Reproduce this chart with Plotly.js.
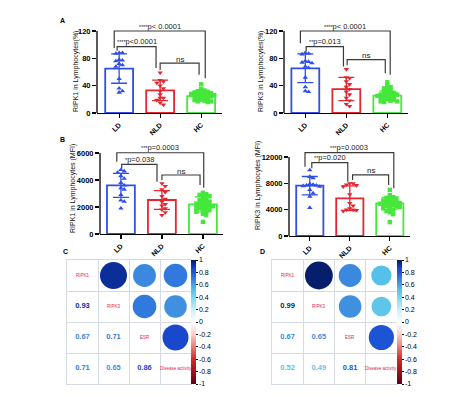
<!DOCTYPE html>
<html><head><meta charset="utf-8">
<script src="https://cdn.plot.ly/plotly-3.0.1.min.js"></script>
<style>html,body{margin:0;padding:0;background:#fff}#chart{width:474px;height:395px}</style>
</head><body><div id="chart"></div>
<script>
// ---------------- DATA ----------------
const groups = ['LD', 'NLD', 'HC'];

// Panel A left: RIPK1 in Lymphocytes (%)
const a1Means = [65, 33, 24.5];
const a1SD = [21.5, 15, 7];
const a1LD = [88, 87, 88, 78, 76, 77, 70, 68, 72, 50, 36, 30, 32];
const a1NLD = [59, 48, 46, 44, 40, 36, 32, 27, 22, 19, 15, 12, 22];
const a1HC = [42, 35, 33, 32, 31, 30, 30, 29, 28, 28, 27, 26, 26, 25, 25, 24, 23, 22, 21, 20, 19, 18, 17, 17, 16];
const a1Stars = ['****', '****', ''];
const a1P = ['p&lt; 0.0001', 'p&lt;0.0001', 'ns'];

// Panel A right: RIPK3 in Lymphocytes (%)
const a2Means = [65.4, 35, 25.5];
const a2SD = [21, 17, 6.5];
const a2LD = [88, 87, 86, 76, 75, 74, 73, 68, 66, 52, 38, 32, 31];
const a2NLD = [64, 52, 51, 46, 42, 38, 35, 31, 27, 22, 18, 13, 10];
const a2HC = [45, 40, 38, 36, 35, 33, 31, 30, 29, 28, 27, 27, 26, 25, 25, 24, 23, 22, 21, 20, 19, 18, 17, 17, 16];
const a2Stars = ['****', '**', ''];
const a2P = ['p&lt; 0.0001', 'p=0.013', 'ns'];

// Panel B left: RIPK1 in Lymphocytes (MFI)
const b1Means = [3600, 2520, 2200];
const b1SD = [890, 690, 560];
const b1LD = [4750, 4650, 4550, 4300, 4100, 3800, 3600, 3400, 3300, 2900, 2500, 2400, 1900];
const b1NLD = [3750, 3550, 3300, 3100, 2800, 2600, 2400, 2200, 2100, 1900, 1800, 1600, 1400];
const b1HC = [3050, 2950, 2900, 2800, 2750, 2600, 2500, 2450, 2400, 2300, 2250, 2200, 2150, 2100, 2050, 2000, 1950, 1900, 1850, 1800, 1700, 1650, 1500, 1400, 900];
const b1Stars = ['***', '*', ''];
const b1P = ['p=0.0003', 'p=0.038', 'ns'];

// Panel B right: RIPK3 in Lymphocytes (MFI)
const b2Means = [7640, 5730, 4970];
const b2SD = [1400, 1870, 900];
const b2LD = [10000, 9000, 8800, 7900, 7800, 7700, 7700, 7600, 7500, 7000, 6500, 6000, 4300];
const b2NLD = [8000, 8000, 7800, 7700, 7500, 6300, 5000, 4600, 4200, 4000, 4000, 3900, 3800];
const b2HC = [7000, 6200, 5900, 5800, 5700, 5500, 5400, 5300, 5200, 5100, 5000, 4900, 4900, 4800, 4700, 4600, 4500, 4400, 4300, 4200, 4000, 3800, 3600, 3300, 2100];
const b2Stars = ['***', '**', ''];
const b2P = ['p=0.0003', 'p=0.020', 'ns'];

// Panels C and D: correlation matrices
const corrLabels = ['RIPK1', 'RIPK3', 'ESR', 'Disease activity'];
const corrC = [[1, 0.93, 0.67, 0.71], [0.93, 1, 0.71, 0.65], [0.67, 0.71, 1, 0.86], [0.71, 0.65, 0.86, 1]];
const corrD = [[1, 0.99, 0.67, 0.52], [0.99, 1, 0.65, 0.49], [0.67, 0.65, 1, 0.81], [0.52, 0.49, 0.81, 1]];
const cbTicks = [1, 0.8, 0.6, 0.4, 0.2, 0, -0.2, -0.4, -0.6, -0.8, -1];

// ---------------- STYLE / LAYOUT ----------------
const W = 474, H = 395;
const FONT = 'Arial, "Liberation Sans", sans-serif';
const groupColors = ['#2F4FE6', '#E5262F', '#45E83A'];
const groupSymbols = ['triangle-up', 'triangle-down', 'square'];
const corrScale = [[0, '#5E0018'], [0.1, '#A0101E'], [0.2, '#D02A2A'], [0.3, '#EC7C78'], [0.4, '#F8CFCB'], [0.5, '#FFFFFF'],
  [0.6, '#CDEFF8'], [0.7, '#7DD4EE'], [0.76, '#55C0EA'], [0.83, '#3D8CE0'], [0.9, '#1E56D8'], [0.93, '#1A48CC'], [0.965, '#0C2E98'], [1, '#051C66']];

const panels = [
  {ax: '', means: a1Means, sd: a1SD, pts: [a1LD, a1NLD, a1HC], stars: a1Stars, p: a1P, title: 'RIPK1 in Lymphocytes(%)',
   xPx: 97, unit: 41, x0: -0.54, x1: 2.5, zeroPy: 113, tickPy: 31, tickVal: 120, top: 128, ticks: [0, 40, 80, 120],
   titleX: 76, titleY: 72,
   br: {x0: [-0.12, -0.05, 1.0], x1: [2.1, 0.9, 1.95], top: [120, 97, 73], l: [95, 91, 63], r: [51, 66, 56]}},
  {ax: '2', means: a2Means, sd: a2SD, pts: [a2LD, a2NLD, a2HC], stars: a2Stars, p: a2P, title: 'RIPK3 in Lymphocytes(%)',
   xPx: 284, unit: 41, x0: -0.52, x1: 2.5, zeroPy: 113, tickPy: 31, tickVal: 120, top: 128, ticks: [0, 40, 80, 120],
   titleX: 261, titleY: 72,
   br: {x0: [-0.12, 0.02, 1.02], x1: [2.07, 0.93, 1.95], top: [120, 97, 78], l: [102, 90, 70], r: [56, 68, 58]}},
  {ax: '3', means: b1Means, sd: b1SD, pts: [b1LD, b1NLD, b1HC], stars: b1Stars, p: b1P, title: 'RIPK1 in Lymphocytes (MFI)',
   xPx: 100, unit: 41, x0: -0.51, x1: 2.5, zeroPy: 234, tickPy: 153, tickVal: 6000, top: 6400, ticks: [0, 2000, 4000, 6000],
   titleX: 73, titleY: 189,
   br: {x0: [-0.1, 0.02, 1.0], x1: [2.02, 0.88, 1.93], top: [6020, 5160, 4370], l: [5360, 4860, 4000], r: [3430, 3870, 3630]}},
  {ax: '4', means: b2Means, sd: b2SD, pts: [b2LD, b2NLD, b2HC], stars: b2Stars, p: b2P, title: 'RIPK3 in Lymphocytes (MFI)',
   xPx: 289, unit: 40, x0: -0.52, x1: 2.5, zeroPy: 236, tickPy: 157, tickVal: 12000, top: 13300, ticks: [0, 4000, 8000, 12000],
   titleX: 258, titleY: 186,
   br: {x0: [-0.12, 0.05, 1.07], x1: [2.1, 0.95, 1.97], top: [12660, 11140, 9270], l: [10530, 10290, 8510], r: [7250, 8250, 7750]}}
];

function swarm(vals, pxPerVal, pxPerUnit, sx, sy) {
  const idx = vals.map((v, i) => i).sort((a, b) => vals[b] - vals[a]);
  const placed = [];
  const off = new Array(vals.length).fill(0);
  for (const i of idx) {
    const y = vals[i] * pxPerVal;
    for (let k = 0; k < 60; k++) {
      const m = k === 0 ? 0 : (k % 2 ? Math.ceil(k / 2) : -k / 2);
      const x = m * sx;
      if (!placed.some(p => Math.abs(p.x - x) < sx - 0.01 && Math.abs(p.y - y) < sy)) {
        placed.push({x, y}); off[i] = x / pxPerUnit; break;
      }
    }
  }
  return off;
}

const traces = [];
const layout = {
  width: W, height: H, margin: {l: 0, r: 0, t: 0, b: 0},
  paper_bgcolor: '#fff', plot_bgcolor: 'rgba(0,0,0,0)',
  showlegend: false, font: {family: FONT, color: '#000'},
  shapes: [], annotations: []
};

panels.forEach(P => {
  const xa = 'x' + P.ax, ya = 'y' + P.ax;
  const pxPerVal = (P.zeroPy - P.tickPy) / P.tickVal;
  const topPy = P.zeroPy - P.top * pxPerVal;
  const xdom = [P.xPx / W, (P.xPx + (P.x1 - P.x0) * P.unit) / W];
  const ydom = [1 - P.zeroPy / H, 1 - topPy / H];
  layout['xaxis' + P.ax] = {
    domain: xdom, range: [P.x0, P.x1], anchor: ya, tickvals: [0, 1, 2], ticktext: groups,
    tickangle: -45, ticks: 'outside', ticklen: 4, tickwidth: 1.2, tickcolor: '#000',
    showline: true, linecolor: '#000', linewidth: 1.3, showgrid: false, zeroline: false,
    tickfont: {size: 7, family: FONT, weight: 'bold'}, fixedrange: true
  };
  layout['yaxis' + P.ax] = {
    domain: ydom, range: [0, P.top], anchor: xa, tickvals: P.ticks, ticktext: P.ticks.map(String),
    ticks: 'outside', ticklen: 4, tickwidth: 1.2, tickcolor: '#000',
    showline: false, showgrid: false, zeroline: false,
    tickfont: {size: 7.5, family: FONT, weight: 'bold'}, fixedrange: true
  };
  // y-axis line stops at the top tick
  layout.shapes.push({type: 'line', xref: 'paper', yref: 'paper', x0: P.xPx / W, x1: P.xPx / W,
    y0: 1 - P.zeroPy / H, y1: 1 - P.tickPy / H, line: {color: '#000', width: 1.3}});

  // bars
  traces.push({type: 'bar', x: [0, 1, 2], y: P.means, width: 0.68, xaxis: xa, yaxis: ya,
    marker: {color: 'rgba(255,255,255,0)', line: {color: groupColors, width: 1.8}}, hoverinfo: 'skip'});
  // points
  P.pts.forEach((vals, g) => {
    const off = swarm(vals, pxPerVal, P.unit, 3.3, 3.4);
    traces.push({type: 'scatter', mode: 'markers', xaxis: xa, yaxis: ya,
      x: vals.map((v, i) => g + off[i]), y: vals,
      marker: {symbol: groupSymbols[g], size: g === 2 ? 4.4 : 4.8, color: groupColors[g], line: {width: 0}, opacity: 1},
      hoverinfo: 'skip', cliponaxis: false});
  });
  // error bars (mean ± SD)
  P.means.forEach((m, g) => {
    traces.push({type: 'scatter', mode: 'markers', xaxis: xa, yaxis: ya, x: [g], y: [m],
      marker: {size: 1, opacity: 0},
      error_y: {type: 'data', array: [P.sd[g]], visible: true, color: groupColors[g], thickness: 1.3, width: 8},
      hoverinfo: 'skip'});
  });
  // significance brackets
  P.p.forEach((lab, k) => {
    const b = P.br;
    layout.shapes.push({type: 'path', xref: xa, yref: ya,
      path: `M ${b.x0[k]},${b.l[k]} L ${b.x0[k]},${b.top[k]} L ${b.x1[k]},${b.top[k]} L ${b.x1[k]},${b.r[k]}`,
      line: {color: '#3a3a3a', width: 1.2}});
    const st = P.stars[k] ? '<span style="font-size:5.5px">' + P.stars[k] + '</span>' : '';
    layout.annotations.push({xref: xa, yref: ya, x: (b.x0[k] + b.x1[k]) / 2, y: b.top[k],
      text: st + lab, showarrow: false, yanchor: 'middle', yshift: lab === 'ns' ? 4 : 5,
      font: {size: lab === 'ns' ? 8 : 7.5, family: FONT, color: '#222'}});
  });
  // y title
  layout.annotations.push({xref: 'paper', yref: 'paper', x: P.titleX / W, y: 1 - P.titleY / H,
    text: P.title, textangle: -90, showarrow: false, xanchor: 'center', yanchor: 'middle',
    font: {size: 7, family: FONT, color: '#111'}});
});

// panel letters
[['A', 63, 20], ['B', 63, 139], ['C', 65, 252], ['D', 262, 252]].forEach(([t, x, y]) => {
  layout.annotations.push({xref: 'paper', yref: 'paper', x: x / W, y: 1 - y / H, text: '<b>' + t + '</b>',
    showarrow: false, xanchor: 'center', yanchor: 'middle', font: {size: 7, family: FONT, color: '#000'}});
});

// color interpolation for numeric labels
function hex2rgb(h) { return [1, 3, 5].map(i => parseInt(h.substr(i, 2), 16)); }
function colorAt(r) {
  const t = (r + 1) / 2;
  for (let i = 1; i < corrScale.length; i++) {
    if (t <= corrScale[i][0]) {
      const [t0, c0] = corrScale[i - 1], [t1, c1] = corrScale[i];
      const f = (t - t0) / (t1 - t0);
      const a = hex2rgb(c0), b = hex2rgb(c1);
      return 'rgb(' + a.map((v, j) => Math.round(v + (b[j] - v) * f)).join(',') + ')';
    }
  }
  return corrScale[corrScale.length - 1][1];
}

const mats = [
  {ax: '5', M: corrC, gx0: 67, gx1: 191, cbx: 191},
  {ax: '6', M: corrD, gx0: 272, gx1: 397, cbx: 397}
];
mats.forEach(Mt => {
  const xa = 'x' + Mt.ax, ya = 'y' + Mt.ax;
  const gy0 = 260, gy1 = 384;
  const axCommon = {range: [0.5, 4.5], tickvals: [1.5, 2.5, 3.5], showticklabels: false, ticks: '',
    showgrid: true, gridcolor: '#D6DAE2', gridwidth: 1, showline: true, linecolor: '#D6DAE2', linewidth: 1,
    mirror: true, zeroline: false, fixedrange: true};
  layout['xaxis' + Mt.ax] = Object.assign({}, axCommon, {domain: [Mt.gx0 / W, Mt.gx1 / W], anchor: ya});
  layout['yaxis' + Mt.ax] = Object.assign({}, axCommon, {domain: [1 - gy1 / H, 1 - gy0 / H], anchor: xa, range: [4.5, 0.5]});
  const n = Mt.M.length;
  const cx = [], cy = [], cv = [], cs = [];
  const tx = [], ty = [], tt = [], tc = [];
  for (let i = 0; i < n; i++) for (let j = 0; j < n; j++) {
    const r = Mt.M[i][j];
    if (j > i) { cx.push(j + 1); cy.push(i + 1); cv.push(r); cs.push(28 * Math.sqrt(Math.abs(r))); }
    else if (j < i) { tx.push(j + 1); ty.push(i + 1); tt.push(r.toFixed(2)); tc.push(colorAt(r)); }
  }
  traces.push({type: 'scatter', mode: 'markers', xaxis: xa, yaxis: ya, x: cx, y: cy, hoverinfo: 'skip',
    marker: {size: cs, color: cv, colorscale: corrScale, cmin: -1, cmax: 1, opacity: 1, line: {width: 0}, showscale: true,
      colorbar: {x: Mt.cbx / W, xanchor: 'left', xpad: 0, y: 1 - gy1 / H, yanchor: 'bottom', ypad: 0,
        len: (gy1 - gy0) / H, lenmode: 'fraction', thickness: 5, thicknessmode: 'pixels', outlinewidth: 0,
        tickvals: cbTicks, ticktext: cbTicks.map(String), ticks: 'outside', ticklen: 2, tickcolor: '#000',
        tickfont: {size: 7, family: FONT, color: '#000'}}}});
  traces.push({type: 'scatter', mode: 'text', xaxis: xa, yaxis: ya, x: tx, y: ty, text: tt, hoverinfo: 'skip',
    textfont: {size: 7.5, family: FONT, color: tc, weight: 'bold'}});
  corrLabels.forEach((lab, i) => {
    layout.annotations.push({xref: xa, yref: ya, x: i + 1, y: i + 1, text: lab, showarrow: false,
      font: {size: 4.5, family: FONT, color: '#E2264E'}});
  });
});

Plotly.newPlot('chart', traces, layout, {staticPlot: true, displayModeBar: false});
</script>
</body></html>
